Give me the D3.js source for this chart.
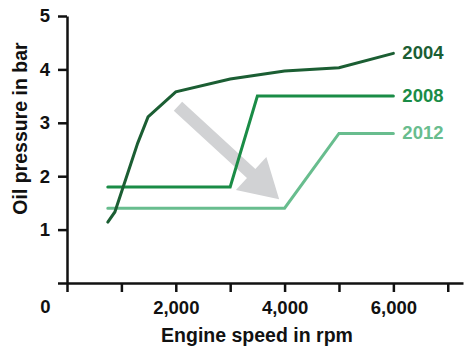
<!DOCTYPE html>
<html>
<head>
<meta charset="utf-8">
<script src="https://cdn.jsdelivr.net/npm/d3@7"></script>
<style>
  html, body { margin: 0; padding: 0; background: #fff; }
  svg { display: block; }
  text { font-family: "Liberation Sans", Arial, Helvetica, sans-serif; font-weight: bold; }
</style>
</head>
<body>
<svg id="chart" width="466" height="346"></svg>
<script>
// ---- data ----
const seriesNames = ["2004", "2008", "2012"];
const rpm2004 = [750, 880, 1300, 1490, 2000, 3000, 4000, 5000, 6000];
const bar2004 = [1.14, 1.33, 2.62, 3.11, 3.58, 3.82, 3.97, 4.03, 4.30];
const rpm2008 = [750, 3000, 3500, 6000];
const bar2008 = [1.80, 1.80, 3.50, 3.50];
const rpm2012 = [750, 4000, 5000, 6000];
const bar2012 = [1.40, 1.40, 2.80, 2.80];
const xTicks = [0, 1000, 2000, 3000, 4000, 5000, 6000, 7000];
const xTickLabels = ["", "", "2,000", "", "4,000", "", "6,000", ""];
const yTicks = [0, 1, 2, 3, 4, 5];
const yTickLabels = ["", "1", "2", "3", "4", "5"];
const originLabel = "0";
const xTitle = "Engine speed in rpm";
const yTitle = "Oil pressure in bar";
const arrowFrom = [2040, 3.31];
const arrowTo = [3900, 1.57];

const colors = ["#1b5e33", "#1a8c46", "#68bd8e"];

const svg = d3.select("#chart");
const x = d3.scaleLinear().domain([0, 7280]).range([67, 463]);
const y = d3.scaleLinear().domain([0, 5]).range([283, 16]);

// arrow (behind lines)
(function () {
  const x0 = x(arrowFrom[0]), y0 = y(arrowFrom[1]);
  const x1 = x(arrowTo[0]), y1 = y(arrowTo[1]);
  const dx = x1 - x0, dy = y1 - y0, L = Math.hypot(dx, dy);
  const ux = dx / L, uy = dy / L, px = -uy, py = ux;
  const sw = 6.2, hl = 38, hw = 22.5;
  const bx = x1 - ux * hl, by = y1 - uy * hl;
  const pts = [
    [x0 + px * sw, y0 + py * sw],
    [bx + px * sw, by + py * sw],
    [bx + px * hw, by + py * hw],
    [x1, y1],
    [bx - px * hw, by - py * hw],
    [bx - px * sw, by - py * sw],
    [x0 - px * sw, y0 - py * sw]
  ];
  svg.append("path")
    .attr("d", "M" + pts.map(p => p.join(",")).join("L") + "Z")
    .attr("fill", "#d1d2d4");
})();

// axes
const axisColor = "#111";
const yAxis = d3.axisLeft(y).tickValues(yTicks)
  .tickFormat((d, i) => yTickLabels[i]).tickSize(9).tickSizeOuter(0).tickPadding(8);
const gy = svg.append("g").attr("transform", `translate(${x(0)},0)`).call(yAxis);

const xAxis = d3.axisBottom(x).tickValues(xTicks)
  .tickFormat((d, i) => xTickLabels[i]).tickSize(9).tickSizeOuter(0).tickPadding(8.5);
const gx = svg.append("g").attr("transform", `translate(0,${y(0)})`).call(xAxis);

[gx, gy].forEach(g => {
  g.select(".domain").attr("stroke", axisColor).attr("stroke-width", 2.5);
  g.selectAll(".tick line").attr("stroke", axisColor).attr("stroke-width", 2.5);
  g.selectAll(".tick text").attr("fill", "#111").style("font-size", "18.5px")
    .style("font-family", '"Liberation Sans", Arial, sans-serif').style("font-weight", "bold");
});

svg.append("text").attr("x", 45.5).attr("y", 313).attr("text-anchor", "middle")
  .attr("fill", "#111").style("font-size", "18.5px").text(originLabel);

// titles
svg.append("text").attr("x", 257).attr("y", 342).attr("text-anchor", "middle")
  .attr("fill", "#111").style("font-size", "19.5px").text(xTitle);
svg.append("text").attr("transform", "translate(27,128.5) rotate(-90)")
  .attr("text-anchor", "middle").attr("fill", "#111").style("font-size", "19.5px").text(yTitle);

// lines
const series = [
  { name: seriesNames[0], rpm: rpm2004, bar: bar2004 },
  { name: seriesNames[1], rpm: rpm2008, bar: bar2008 },
  { name: seriesNames[2], rpm: rpm2012, bar: bar2012 }
];
const line = d3.line().x(d => x(d[0])).y(d => y(d[1]));
series.slice().reverse().forEach((s, j) => {
  const i = series.length - 1 - j;
  const pts = s.rpm.map((r, k) => [r, s.bar[k]]);
  svg.append("path").attr("d", line(pts)).attr("fill", "none")
    .attr("stroke", colors[i]).attr("stroke-width", 3)
    .attr("stroke-linecap", "round").attr("stroke-linejoin", "miter");
  const last = pts[pts.length - 1];
  svg.append("text").attr("x", x(last[0]) + 9).attr("y", y(last[1]) + 6)
    .attr("fill", colors[i]).style("font-size", "18.5px").text(s.name);
});
</script>
</body>
</html>
